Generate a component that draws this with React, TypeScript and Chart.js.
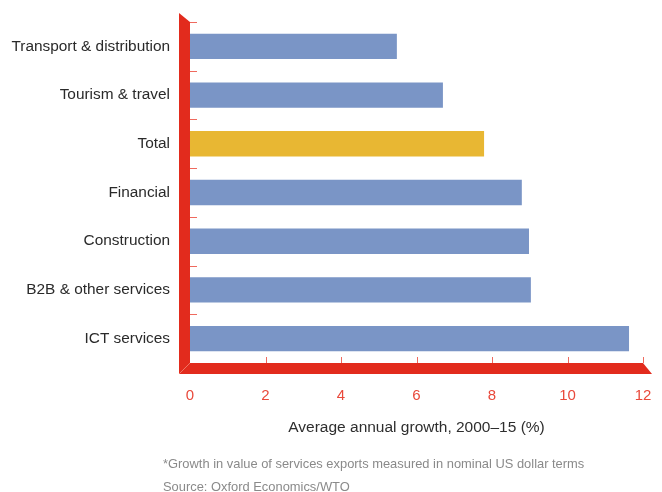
import React, { useEffect, useRef } from "react";
import { Chart, registerables } from "chart.js";

Chart.register(...registerables);

const categories = [
  "Transport & distribution",
  "Tourism & travel",
  "Total",
  "Financial",
  "Construction",
  "B2B & other services",
  "ICT services",
];
const growthValues = [5.48, 6.7, 7.79, 8.79, 8.98, 9.03, 11.63];
const highlightCategory = "Total";
const xMin = 0;
const xMax = 12;
const xStep = 2;
const xTitle = "Average annual growth, 2000\u201315 (%)";
const footnote = "*Growth in value of services exports measured in nominal US dollar terms";
const source = "Source: Oxford Economics/WTO";

const BLUE = "#7a95c6";
const GOLD = "#e8b733";
const RED = "#e22b1d";
const TICK_RED = "#ef6a5e";
const FONT = "'Liberation Sans', Arial, sans-serif";

const framePlugin = {
  id: "frame3d",
  afterDatasetsDraw(chart: any) {
    const { ctx, chartArea, scales } = chart;
    const L = chartArea.left;
    const T = chartArea.top;
    const B = chartArea.bottom;
    const R = chartArea.right;
    const d = 11;
    ctx.save();
    const ys = scales.y;
    const step = ys.getPixelForValue(1) - ys.getPixelForValue(0);
    ctx.strokeStyle = TICK_RED;
    ctx.lineWidth = 1;
    for (let i = 0; i <= categories.length; i++) {
      const yPix = ys.getPixelForValue(0) - step / 2 + i * step;
      const yy = Math.round(yPix) + 0.5;
      ctx.beginPath();
      ctx.moveTo(L, yy);
      ctx.lineTo(L + 7, yy);
      ctx.stroke();
    }
    const xs = scales.x;
    for (let v = xMin + xStep; v <= xMax; v += xStep) {
      const xx = Math.round(xs.getPixelForValue(v)) + 0.5;
      ctx.beginPath();
      ctx.moveTo(xx, B - 6);
      ctx.lineTo(xx, B);
      ctx.stroke();
    }
    ctx.fillStyle = RED;
    ctx.beginPath();
    ctx.moveTo(L - d, T - 9);
    ctx.lineTo(L, T);
    ctx.lineTo(L, B);
    ctx.lineTo(L - d, B + d);
    ctx.closePath();
    ctx.fill();
    ctx.beginPath();
    ctx.moveTo(L - d, B + d);
    ctx.lineTo(L, B);
    ctx.lineTo(R, B);
    ctx.lineTo(R + 9, B + d);
    ctx.closePath();
    ctx.fill();
    ctx.strokeStyle = "#ee7565";
    ctx.beginPath();
    ctx.moveTo(L - d, B + d);
    ctx.lineTo(L, B);
    ctx.stroke();
    ctx.restore();
  },
};

export default function App() {
  const canvasRef = useRef<HTMLCanvasElement | null>(null);

  useEffect(() => {
    if (!canvasRef.current) return;
    const chart = new Chart(canvasRef.current, {
      type: "bar",
      data: {
        labels: categories,
        datasets: [
          {
            data: growthValues,
            backgroundColor: categories.map((c) => (c === highlightCategory ? GOLD : BLUE)),
            borderWidth: 0,
            categoryPercentage: 1,
            barPercentage: 0.52,
          },
        ],
      },
      options: {
        indexAxis: "y",
        responsive: false,
        animation: false,
        layout: { padding: { top: 22, left: 0, right: 19, bottom: 49 } },
        plugins: {
          legend: { display: false },
          tooltip: { enabled: false },
        },
        scales: {
          x: {
            min: xMin,
            max: xMax,
            grid: { display: false, drawTicks: false },
            border: { display: false },
            ticks: {
              stepSize: xStep,
              padding: 24,
              color: "#e9493b",
              font: { family: FONT, size: 15 },
              maxRotation: 0,
            },
            title: {
              display: true,
              text: xTitle,
              color: "#2e2e2e",
              font: { family: FONT, size: 15.5 },
              padding: { top: 0, bottom: 6 },
            },
            afterFit: (s: any) => {
              s.height = 80;
              s.paddingLeft = 0;
              s.paddingRight = 0;
            },
          },
          y: {
            grid: { display: false, drawTicks: false },
            border: { display: false },
            ticks: {
              padding: 20,
              color: "#2a2a2a",
              font: { family: FONT, size: 15.4 },
            },
            afterFit: (s: any) => {
              s.width = 190;
              s.paddingTop = 0;
              s.paddingBottom = 0;
            },
          },
        },
      },
      plugins: [framePlugin],
    });
    return () => chart.destroy();
  }, []);

  return (
    <div style={{ position: "absolute", left: 0, top: 0, width: 662, height: 492, background: "#fff" }}>
      <canvas ref={canvasRef} width={662} height={492} style={{ display: "block" }} />
      <div
        style={{
          position: "absolute",
          left: 163,
          top: 452,
          fontFamily: FONT,
          fontSize: 12.9,
          lineHeight: "23px",
          color: "#8a8a8a",
          whiteSpace: "nowrap",
        }}
      >
        <div>{footnote}</div>
        <div>{source}</div>
      </div>
    </div>
  );
}
